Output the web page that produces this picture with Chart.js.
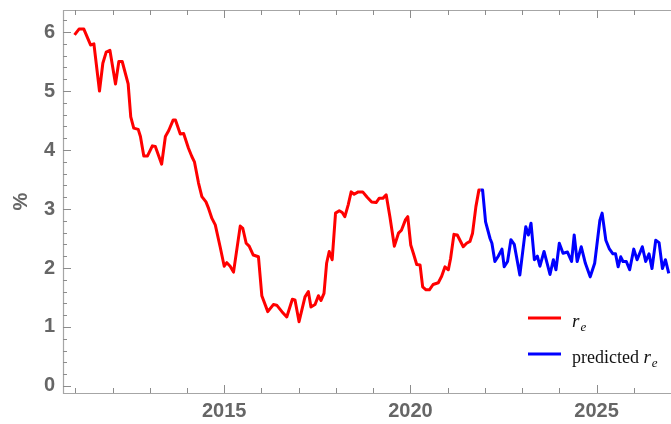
<!DOCTYPE html>
<html>
<head>
<meta charset="utf-8">
<script src="https://cdn.jsdelivr.net/npm/chart.js"></script>
<style>
  body { margin: 0; background: #fff; overflow: hidden; }
</style>
</head>
<body>
<canvas id="chart" width="671" height="424"></canvas>
<script>
var redX = [2010.98, 2011.10, 2011.23, 2011.37, 2011.41, 2011.50, 2011.65, 2011.74, 2011.83, 2011.93,
  2012.08, 2012.17, 2012.26, 2012.42, 2012.49, 2012.57, 2012.69, 2012.75, 2012.84, 2012.94,
  2013.07, 2013.15, 2013.32, 2013.42, 2013.51, 2013.63, 2013.69, 2013.82, 2013.91, 2014.04,
  2014.13, 2014.20, 2014.31, 2014.40, 2014.51, 2014.58, 2014.67, 2014.76, 2014.89, 2015.00,
  2015.07, 2015.16, 2015.25, 2015.43, 2015.50, 2015.59, 2015.67, 2015.78, 2015.92, 2016.01,
  2016.17, 2016.32, 2016.41, 2016.55, 2016.68, 2016.83, 2016.90, 2017.01, 2017.17, 2017.26,
  2017.33, 2017.44, 2017.53, 2017.60, 2017.68, 2017.75, 2017.82, 2017.90, 2017.99, 2018.09,
  2018.17, 2018.24, 2018.33, 2018.41, 2018.49, 2018.60, 2018.72, 2018.84, 2018.96, 2019.08,
  2019.16, 2019.26, 2019.35, 2019.45, 2019.57, 2019.68, 2019.76, 2019.87, 2019.93, 2020.01,
  2020.08, 2020.17, 2020.26, 2020.33, 2020.42, 2020.51, 2020.61, 2020.75, 2020.84, 2020.93,
  2021.02, 2021.08, 2021.17, 2021.26, 2021.42, 2021.51, 2021.60, 2021.67, 2021.76, 2021.84,
  2021.88];
var redY = [5.95, 6.05, 6.05, 5.84, 5.78, 5.80, 5.00, 5.47, 5.66, 5.69,
  5.12, 5.50, 5.50, 5.12, 4.56, 4.37, 4.35, 4.23, 3.90, 3.90,
  4.07, 4.06, 3.76, 4.23, 4.33, 4.51, 4.51, 4.27, 4.28, 4.03,
  3.89, 3.80, 3.44, 3.21, 3.12, 3.01, 2.84, 2.73, 2.36, 2.03,
  2.09, 2.03, 1.93, 2.71, 2.67, 2.42, 2.37, 2.22, 2.19, 1.53,
  1.26, 1.38, 1.37, 1.26, 1.17, 1.47, 1.46, 1.09, 1.51, 1.60,
  1.34, 1.38, 1.53, 1.45, 1.57, 2.08, 2.28, 2.14, 2.93, 2.97,
  2.94, 2.87, 3.07, 3.29, 3.25, 3.29, 3.29, 3.20, 3.12, 3.11,
  3.18, 3.18, 3.24, 2.87, 2.37, 2.59, 2.64, 2.82, 2.87, 2.39,
  2.25, 2.06, 2.05, 1.68, 1.63, 1.63, 1.72, 1.75, 1.86, 2.02,
  1.97, 2.16, 2.57, 2.56, 2.36, 2.42, 2.45, 2.59, 3.04, 3.32,
  3.32];

// predicted r_e (blue)
var blueX = [2021.88, 2021.94, 2022.02, 2022.14, 2022.19, 2022.27, 2022.36, 2022.46, 2022.52, 2022.61,
  2022.70, 2022.79, 2022.94, 2023.10, 2023.17, 2023.24, 2023.33, 2023.41, 2023.48, 2023.59,
  2023.75, 2023.84, 2023.91, 2024.00, 2024.10, 2024.22, 2024.33, 2024.40, 2024.48, 2024.59,
  2024.70, 2024.83, 2024.95, 2025.09, 2025.15, 2025.25, 2025.34, 2025.44, 2025.51, 2025.58,
  2025.65, 2025.71, 2025.80, 2025.89, 2026.00, 2026.09, 2026.23, 2026.32, 2026.41, 2026.49,
  2026.59, 2026.68, 2026.77, 2026.85, 2026.94];
var blueY = [3.32, 3.32, 2.78, 2.50, 2.42, 2.11, 2.20, 2.32, 2.02, 2.11,
  2.48, 2.40, 1.88, 2.70, 2.56, 2.76, 2.14, 2.20, 2.03, 2.28,
  1.89, 2.14, 1.97, 2.42, 2.25, 2.27, 2.11, 2.56, 2.11, 2.36,
  2.08, 1.85, 2.08, 2.81, 2.93, 2.47, 2.33, 2.24, 2.24, 2.02,
  2.19, 2.11, 2.11, 1.97, 2.32, 2.14, 2.36, 2.11, 2.24, 1.99,
  2.47, 2.43, 1.99, 2.14, 1.91];

var xMajor = [2015, 2020, 2025];
var yMajor = [0, 1, 2, 3, 4, 5, 6];

function pts(xs, ys) {
  return xs.map(function (x, i) { return { x: x, y: ys[i] }; });
}

// Mathematica-like frame with inward ticks + legend inside the plot
var framePlugin = {
  id: 'frame',
  beforeDatasetsDraw: function (chart) {
    var ctx = chart.ctx, a = chart.chartArea;
    var xs = chart.scales.x, ys = chart.scales.y;
    ctx.save();
    ctx.strokeStyle = '#a6a6a6';
    ctx.lineWidth = 1.2;
    ctx.beginPath();
    ctx.moveTo(a.right, a.top + 0.5);
    ctx.lineTo(a.left + 0.5, a.top + 0.5);
    ctx.lineTo(a.left + 0.5, a.bottom + 0.5);
    ctx.lineTo(a.right, a.bottom + 0.5);
    ctx.stroke();

    ctx.strokeStyle = '#8c8c8c';
    ctx.lineWidth = 1;
    ctx.beginPath();
    for (var yr = 2011; yr <= 2026; yr++) {
      var px = Math.round(xs.getPixelForValue(yr)) + 0.5;
      var len = xMajor.indexOf(yr) >= 0 ? 8 : 5;
      ctx.moveTo(px, a.bottom); ctx.lineTo(px, a.bottom - len);
      ctx.moveTo(px, a.top); ctx.lineTo(px, a.top + len);
    }
    for (var k = 0; k <= 31; k++) {
      var v = k / 5;
      var py = Math.round(ys.getPixelForValue(v)) + 0.5;
      var l2 = (k % 5 === 0) ? 8 : 4;
      ctx.moveTo(a.left, py); ctx.lineTo(a.left + l2, py);
    }
    ctx.stroke();
    ctx.restore();
  },
  afterDraw: function (chart) {
    var ctx = chart.ctx;
    var rows = [
      { color: chart.data.datasets[0].borderColor, pre: '', y: 318 },
      { color: chart.data.datasets[1].borderColor, pre: 'predicted ', y: 354 }
    ];
    ctx.save();
    rows.forEach(function (r) {
      ctx.strokeStyle = r.color;
      ctx.lineWidth = 3;
      ctx.beginPath();
      ctx.moveTo(528, r.y);
      ctx.lineTo(561, r.y);
      ctx.stroke();
      var x = 572, base = r.y + 9;
      ctx.fillStyle = '#111';
      ctx.textBaseline = 'alphabetic';
      ctx.textAlign = 'left';
      if (r.pre) {
        ctx.font = '18px "Liberation Serif", "Times New Roman", serif';
        ctx.fillText(r.pre, x, base);
        x += ctx.measureText(r.pre).width;
      }
      ctx.font = 'italic 19px "Liberation Serif", "Times New Roman", serif';
      ctx.fillText('r', x, base);
      x += ctx.measureText('r').width + 1;
      ctx.font = 'italic 13px "Liberation Serif", "Times New Roman", serif';
      ctx.fillText('e', x, base + 4);
    });
    ctx.restore();
  }
};

var tickFont = { family: '"Liberation Sans", Arial, sans-serif', size: 20, weight: 'bold' };

new Chart(document.getElementById('chart'), {
  type: 'line',
  data: {
    datasets: [
      { label: 'r_e', data: pts(redX, redY), borderColor: '#ff0000', borderWidth: 3,
        pointRadius: 0, tension: 0, borderJoinStyle: 'round' },
      { label: 'predicted r_e', data: pts(blueX, blueY), borderColor: '#0000ff', borderWidth: 3,
        pointRadius: 0, tension: 0, borderJoinStyle: 'round' }
    ]
  },
  options: {
    responsive: false,
    animation: false,
    layout: { padding: { top: 10, right: 0, left: 0, bottom: 0 } },
    plugins: { legend: { display: false }, tooltip: { enabled: false } },
    scales: {
      x: {
        type: 'linear',
        min: 2010.67,
        max: 2027.0,
        grid: { display: false, drawTicks: false },
        border: { display: false },
        ticks: {
          stepSize: 5, includeBounds: false, maxRotation: 0, autoSkip: false,
          padding: 6, color: '#666', font: tickFont,
          callback: function (v) { return xMajor.indexOf(v) >= 0 ? String(v) : ''; }
        },
        afterFit: function (s) { s.height = 31; s.paddingLeft = 0; s.paddingRight = 0; }
      },
      y: {
        min: -0.119,
        max: 6.373,
        grid: { display: false, drawTicks: false },
        border: { display: false },
        ticks: {
          stepSize: 1, includeBounds: false, padding: 8, color: '#666', font: tickFont,
          callback: function (v) { return yMajor.indexOf(v) >= 0 ? String(v) : ''; }
        },
        title: { display: true, text: '%', color: '#666', font: tickFont, padding: { top: 9, bottom: 0 } },
        afterFit: function (s) { s.width = 63; s.paddingTop = 0; s.paddingBottom = 0; }
      }
    }
  },
  plugins: [framePlugin]
});
</script>
</body>
</html>
